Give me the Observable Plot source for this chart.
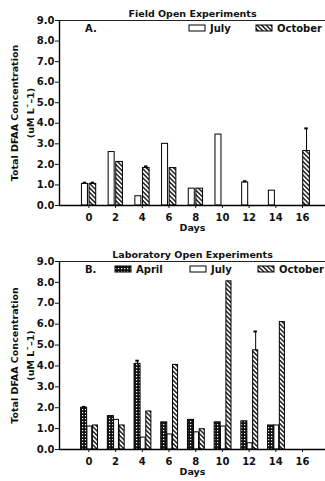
<!DOCTYPE html>
<html>
<head>
<meta charset="utf-8">
<script src="https://cdn.jsdelivr.net/npm/d3@7"></script>
<script src="https://cdn.jsdelivr.net/npm/@observablehq/plot@0.6"></script>
<style>
  html, body { margin: 0; padding: 0; background: white; }
  #chart svg { display: block; }
</style>
</head>
<body>
<svg width="0" height="0" style="position:absolute">
  <defs>
    <pattern id="hatch" patternUnits="userSpaceOnUse" width="3.2" height="3.2" patternTransform="rotate(-45)">
      <rect width="3.2" height="3.2" fill="white"></rect>
      <line x1="0.8" y1="0" x2="0.8" y2="3.2" stroke="black" stroke-width="1.3"></line>
    </pattern>
    <pattern id="dots" patternUnits="userSpaceOnUse" width="3" height="3">
      <rect width="3" height="3" fill="#111"></rect>
      <rect x="1" y="1" width="1.2" height="1.2" fill="white"></rect>
    </pattern>
  </defs>
</svg>
<div id="chart"></div>
<script>
// ---- data ----
const days = [0, 2, 4, 6, 8, 10, 12, 14, 16];
const yTicks = [0, 1, 2, 3, 4, 5, 6, 7, 8, 9];

const fieldJuly        = [1.05, 2.60, 0.45, 3.00, 0.82, 3.45, 1.12, 0.72, null];
const fieldJulyErr     = [0.06, 0,    0,    0,    0,    0,    0.06, 0,    null];
const fieldOctober     = [1.05, 2.12, 1.82, 1.82, 0.82, null, null, null, 2.65];
const fieldOctoberErr  = [0.06, 0,    0.08, 0,    0,    null, null, null, 1.10];

const labApril         = [2.00, 1.60, 4.10, 1.30, 1.42, 1.30, 1.35, 1.15, null];
const labAprilErr      = [0.04, 0,    0.15, 0,    0,    0,    0,    0,    null];
const labJuly          = [1.10, 1.42, 0.57, 0.72, 0.82, 1.10, 0.30, 1.15, null];
const labJulyErr       = [0,    0,    0,    0,    0,    0,    0,    0,    null];
const labOctober       = [1.15, 1.15, 1.82, 4.05, 0.97, 8.05, 4.75, 6.10, null];
const labOctoberErr    = [0,    0,    0,    0,    0,    0,    0.90, 0,    null];

const FONT = "'DejaVu Sans', sans-serif";

function panel({title, tag, series, height, marginTop, marginBottom}) {
  const marks = [];
  const errRows = [];
  for (const s of series) {
    const rows = days.map((d, i) => ({day: d, v: s.values[i], e: s.err[i]}))
      .filter(r => r.v != null);
    marks.push(Plot.rectY(rows, {
      x1: r => r.day + s.off[0], x2: r => r.day + s.off[1],
      y1: 0, y2: "v", fill: s.fill, stroke: "black", strokeWidth: 1, inset: 0
    }));
    for (const r of rows) if (r.e > 0) errRows.push({c: r.day + (s.off[0] + s.off[1]) / 2, v: r.v, e: r.e});
  }
  marks.push(Plot.ruleX(errRows, {x: "c", y1: "v", y2: d => d.v + d.e, stroke: "black", strokeWidth: 1}));
  marks.push(Plot.ruleY(errRows, {y: d => d.v + d.e, x1: d => d.c - 0.13, x2: d => d.c + 0.13, stroke: "black", strokeWidth: 2}));

  const chart = Plot.plot({
    width: 325, height, marginLeft: 59, marginRight: 0, marginTop, marginBottom,
    style: {fontFamily: FONT, fontSize: "9px", fontWeight: "bold", color: "#111", background: "white", overflow: "visible"},
    x: {domain: [-2.2, 17.72]},
    y: {domain: [0, 9]},
    marks: [
      Plot.ruleY([9], {stroke: "#222", strokeWidth: 1.2}),
      ...marks,
      Plot.ruleY([0], {stroke: "black", strokeWidth: 1.4}),
      Plot.ruleX([-2.2], {stroke: "black", strokeWidth: 1.4}),
      Plot.axisY({ticks: yTicks, tickFormat: d3.format(".1f"), tickSize: 4, tickPadding: 1, label: null, fontSize: 10}),
      Plot.axisX({ticks: days, tickFormat: d => String(d), tickSize: 3, tickPadding: 5, label: null, fontSize: 10}),
      Plot.text([title], {frameAnchor: "top", dy: -10, fontSize: 9.5, fontWeight: "bold"}),
      Plot.text(["Days"], {frameAnchor: "bottom", dy: 25, fontSize: 9.5, fontWeight: "bold"}),
      Plot.text(["Total DFAA Concentration\n(uM L\u02C9\u20131)"], {frameAnchor: "left", textAnchor: "middle", lineAnchor: "middle", dx: -39, rotate: -90, lineHeight: 1.7, fontSize: 9.5, fontWeight: "bold"})
    ]
  });

  // in-plot legend
  const svg = d3.select(chart);
  const g = svg.append("g").attr("font-family", FONT).attr("font-size", 10).attr("font-weight", "bold")
    .attr("fill", "#111").attr("text-anchor", "start");
  const ly = marginTop + 8;
  g.append("text").attr("x", 85).attr("y", ly).attr("dy", "0.35em").text(tag);
  for (const s of series) {
    g.append("rect").attr("x", s.leg).attr("y", ly - 3).attr("width", 16).attr("height", 6)
      .attr("fill", s.fill).attr("stroke", "black").attr("stroke-width", 1);
    g.append("text").attr("x", s.leg + 21).attr("y", ly).attr("dy", "0.35em").text(s.name);
  }
  return chart;
}

const root = document.getElementById("chart");
root.append(panel({
  title: "Field Open Experiments", tag: "A.",
  height: 240, marginTop: 20, marginBottom: 35,
  series: [
    {name: "July", values: fieldJuly, err: fieldJulyErr, fill: "white", off: [-0.52, -0.07], leg: 189},
    {name: "October", values: fieldOctober, err: fieldOctoberErr, fill: "url(#hatch)", off: [0.05, 0.55], leg: 256}
  ]
}));
root.append(panel({
  title: "Laboratory Open Experiments", tag: "B.",
  height: 241, marginTop: 21, marginBottom: 32,
  series: [
    {name: "April", values: labApril, err: labAprilErr, fill: "url(#dots)", off: [-0.58, -0.13], leg: 115},
    {name: "July", values: labJuly, err: labJulyErr, fill: "white", off: [-0.11, 0.25], leg: 190},
    {name: "October", values: labOctober, err: labOctoberErr, fill: "url(#hatch)", off: [0.30, 0.68], leg: 258}
  ]
}));
</script>
</body>
</html>
